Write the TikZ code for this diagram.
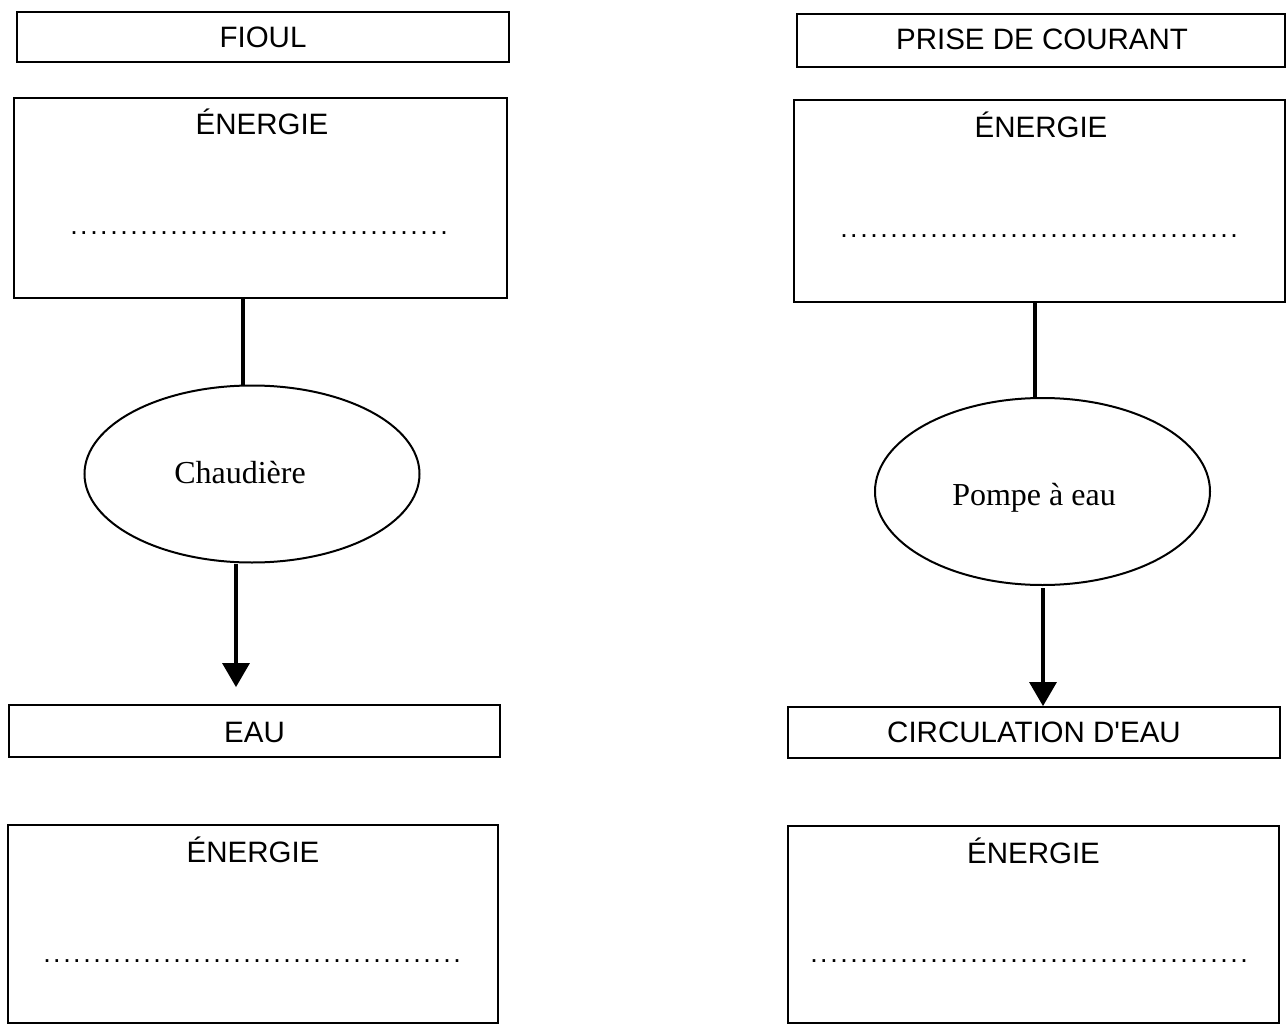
\documentclass[tikz,border=0pt]{standalone}
\usepackage{fontspec}
\setmainfont{Liberation Sans}[Ligatures=TeXOff]
\newfontfamily\serifrm{Liberation Serif}
\usetikzlibrary{shapes.geometric,arrows.meta}
\newcommand{\blankdots}[1]{\makebox[#1]{\fontsize{27pt}{28pt}\selectfont\leaders\hbox to 10pt{\hss.\hss}\hfill}}
\begin{document}
\begin{tikzpicture}[x=1pt,y=-1pt,
  box/.style={draw,line width=1.8pt,inner sep=0pt,rectangle},
  lbl/.style={anchor=base,inner sep=0pt,font=\fontsize{29.5pt}{32pt}\selectfont},
  dotsline/.style={anchor=center,inner sep=0pt},
  proc/.style={draw,ellipse,line width=2pt,inner sep=0pt},
  ptxt/.style={anchor=base,inner sep=0pt,font=\serifrm\fontsize{32pt}{35pt}\selectfont},
  link/.style={line width=3.2pt},
  flow/.style={line width=3.2pt,-{Triangle[width=27pt,length=24pt]}}]
\useasboundingbox (0,0) rectangle (1286,1025);

% ---- left column ----
\node[box,minimum width=492pt,minimum height=50pt] (fioul) at (263,37) {};
\node[lbl] (tfioul) at (263,48) {FIOUL};
\node[box,minimum width=493pt,minimum height=200pt] (e1) at (260.5,198) {};
\node[lbl] (te1) at (262,135) {ÉNERGIE};
\node[dotsline] (d1) at (259,233) {\blankdots{380pt}};
\node[proc,minimum width=335pt,minimum height=177pt] (ch) at (252,474) {};
\node[ptxt] (tch) at (240,483) {Chaudière};
\node[box,minimum width=491pt,minimum height=52pt] (eau) at (254.5,731) {};
\node[lbl] (teau) at (254.5,742) {EAU};
\node[box,minimum width=490pt,minimum height=198pt] (e3) at (253,924) {};
\node[lbl] (te3) at (253,862) {ÉNERGIE};
\node[dotsline] (d3) at (252,961) {\blankdots{420pt}};

\path (e1.south) ++(-17.5,0) coordinate (a1);
\draw[link] (a1) -- (a1 |- ch.north);
\path (ch.south) ++(-16,0) coordinate (b1);
\path (eau.north) ++(-19.5,-17) coordinate (b1end);
\draw[flow] (b1) -- (b1 |- b1end);

% ---- right column ----
\node[box,minimum width=488pt,minimum height=53pt] (prise) at (1041,40.5) {};
\node[lbl] (tprise) at (1042,50) {PRISE DE COURANT};
\node[box,minimum width=491pt,minimum height=202pt] (e2) at (1039.5,201) {};
\node[lbl] (te2) at (1041,137) {ÉNERGIE};
\node[dotsline] (d2) at (1039,236) {\blankdots{400pt}};
\node[proc,minimum width=335pt,minimum height=187pt] (pp) at (1042.5,491.5) {};
\node[ptxt] (tpp) at (1034,505) {Pompe à eau};
\node[box,minimum width=492pt,minimum height=51pt] (circ) at (1034,732.5) {};
\node[lbl] (tcirc) at (1034,742) {CIRCULATION D'EAU};
\node[box,minimum width=491pt,minimum height=197pt] (e4) at (1033.5,924.5) {};
\node[lbl] (te4) at (1033.5,863) {ÉNERGIE};
\node[dotsline] (d4) at (1030,961) {\blankdots{442pt}};

\path (e2.south) ++(-4.5,0) coordinate (a2);
\draw[link] (a2) -- (a2 |- pp.north);
\path (pp.south) ++(0.5,2) coordinate (b2);
\draw[flow] (b2) -- (b2 |- circ.north);
\end{tikzpicture}
\end{document}
